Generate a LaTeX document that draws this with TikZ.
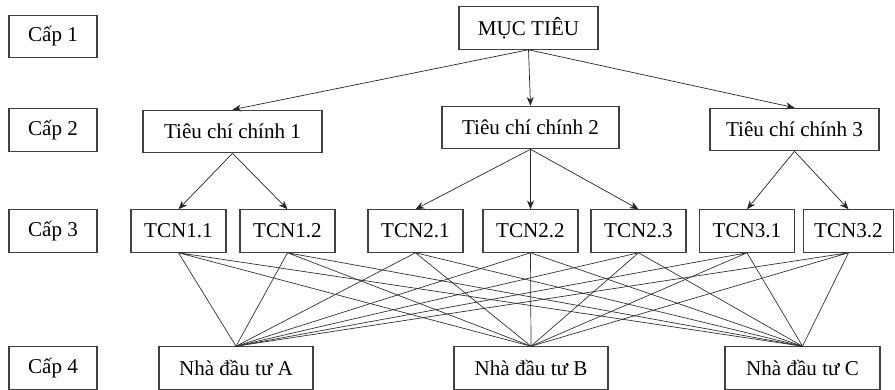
\documentclass[tikz,border=0pt]{standalone}
\usepackage{fontspec}
\setmainfont{Liberation Serif}
\usepackage{tikz}
\usetikzlibrary{positioning, arrows.meta}

\begin{document}
\begin{tikzpicture}[
        box/.style={draw=black!75, line width=0.6pt, fill=white, inner sep=0pt, minimum height=0.85cm, font=\fontsize{12pt}{14pt}\selectfont},
        levelbox/.style={box, minimum width=1.76cm},
        tcnbox/.style={box, minimum width=1.9cm},
        arr/.style={-{Stealth[length=5pt, width=4pt]}, line width=0.4pt, black!85},
        link/.style={line width=0.4pt, black!80}
    ]
        \useasboundingbox (0,0) rectangle (17.9,7.8);

        % Draw level labels
        \node[levelbox] (cap1) at (1.06,7.07) {Cấp 1};
        \node[levelbox] (cap2) at (1.06,5.2) {Cấp 2};
        \node[levelbox] (cap3) at (1.06,3.18) {Cấp 3};
        \node[levelbox] (cap4) at (1.06,0.44) {Cấp 4};

        % Draw goal and main criteria
        \node[box, minimum width=2.78cm] (goal) at (10.57,7.24) {MỤC TIÊU};
        \node[box, minimum width=3.58cm] (main1) at (4.65,5.17) {Tiêu chí chính 1};
        \node[box, minimum width=3.54cm] (main2) at (10.61,5.25) {Tiêu chí chính 2};
        \node[box, minimum width=3.38cm] (main3) at (15.89,5.21) {Tiêu chí chính 3};

        % Draw sub criteria
        \node[tcnbox] (tcn11) at (3.57,3.18) {TCN1.1};
        \node[tcnbox] (tcn12) at (5.75,3.18) {TCN1.2};
        \node[tcnbox] (tcn21) at (8.31,3.18) {TCN2.1};
        \node[tcnbox] (tcn22) at (10.61,3.18) {TCN2.2};
        \node[tcnbox] (tcn23) at (12.77,3.18) {TCN2.3};
        \node[tcnbox] (tcn31) at (14.94,3.18) {TCN3.1};
        \node[tcnbox, minimum width=1.8cm] (tcn32) at (16.97,3.18) {TCN3.2};

        % Draw investors
        \node[box, minimum width=3.08cm] (invA) at (4.72,0.44) {Nhà đầu tư A};
        \node[box, minimum width=3.08cm] (invB) at (10.62,0.44) {Nhà đầu tư B};
        \node[box, minimum width=3.1cm] (invC) at (16.05,0.44) {Nhà đầu tư C};

        % Arrows between levels
        \draw[arr] (goal.south) -- (main1.north);
        \draw[arr] (goal.south) -- (main2.north);
        \draw[arr] (goal.south) -- (main3.north);
        \draw[arr] (main1.south) -- (tcn11.north);
        \draw[arr] (main1.south) -- (tcn12.north);
        \draw[arr] (main2.south) -- (tcn21.north);
        \draw[arr] (main2.south) -- (tcn22.north);
        \draw[arr] (main2.south) -- (tcn23.north);
        \draw[arr] (main3.south) -- (tcn31.north);
        \draw[arr] (main3.south) -- (tcn32.north);

        % Links to investors
        \draw[link] (tcn11.south) -- (invA.north) (tcn11.south) -- (invB.north) (tcn11.south) -- (invC.north);
        \draw[link] (tcn12.south) -- (invA.north) (tcn12.south) -- (invB.north) (tcn12.south) -- (invC.north);
        \draw[link] (tcn21.south) -- (invA.north) (tcn21.south) -- (invB.north) (tcn21.south) -- (invC.north);
        \draw[link] (tcn22.south) -- (invA.north) (tcn22.south) -- (invB.north) (tcn22.south) -- (invC.north);
        \draw[link] (tcn23.south) -- (invA.north) (tcn23.south) -- (invB.north) (tcn23.south) -- (invC.north);
        \draw[link] (tcn31.south) -- (invA.north) (tcn31.south) -- (invB.north) (tcn31.south) -- (invC.north);
        \draw[link] (tcn32.south) -- (invA.north) (tcn32.south) -- (invB.north) (tcn32.south) -- (invC.north);
    \end{tikzpicture}
\end{document}
